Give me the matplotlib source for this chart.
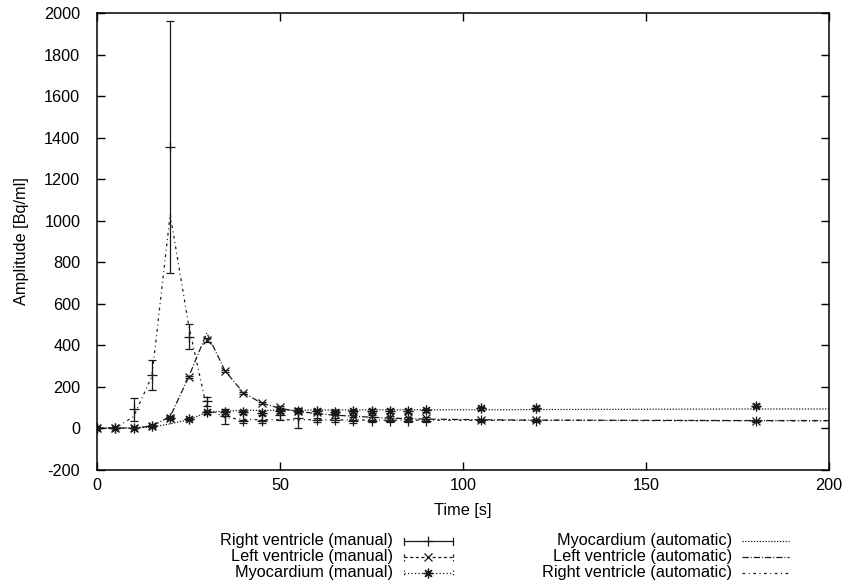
import matplotlib
matplotlib.use('Agg')
import matplotlib.pyplot as plt
from matplotlib.lines import Line2D

plt.rcParams['font.family'] = ['Liberation Sans', 'DejaVu Sans']
plt.rcParams['font.size'] = 11.7
plt.rcParams['axes.unicode_minus'] = False

# ---- data ----
t_manual = [0, 5, 10, 15, 20, 25, 30, 35, 40, 45, 50, 55, 60, 65, 70, 75, 80, 85, 90, 105, 120, 180]
rv_manual = [0, 0, 90, 255, 1357, 440, 128, 57, 32, 32, 65, 48, 40, 38, 32, 35, 35, 36, 36, 37, 35, 33]
rv_err = [0, 0, 54, 72, 608, 60, 22, 37, 8, 8, 25, 48, 10, 8, 6, 6, 6, 6, 6, 6, 6, 6]
lv_manual = [0, 0, 0, 10, 48, 245, 424, 275, 170, 122, 100, 82, 75, 66, 60, 56, 52, 50, 48, 40, 38, 36]
lv_err = [0, 0, 0, 3, 5, 6, 8, 6, 5, 5, 5, 5, 5, 5, 5, 5, 5, 5, 5, 5, 5, 5]
myo_manual = [0, 0, 2, 10, 50, 45, 75, 75, 75, 72, 80, 80, 80, 78, 80, 82, 82, 82, 85, 95, 98, 107]
myo_err = [0, 0, 0, 3, 6, 5, 8, 8, 8, 8, 8, 8, 8, 8, 8, 8, 8, 8, 8, 8, 8, 8]

t_auto = [0, 5, 10, 15, 20, 25, 30, 35, 40, 45, 50, 55, 60, 65, 70, 75, 80, 85, 90, 105, 120, 180, 200]
myo_auto = [0, 0, 0, 5, 20, 40, 75, 82, 85, 85, 86, 86, 87, 87, 87, 88, 88, 88, 88, 88, 89, 92, 92]
lv_auto = [0, 0, 0, 10, 55, 245, 458, 275, 170, 120, 95, 80, 70, 62, 57, 52, 48, 45, 43, 40, 38, 36, 36]
rv_auto = [0, 0, 55, 250, 1030, 500, 95, 50, 42, 40, 40, 40, 40, 39, 39, 38, 38, 38, 38, 37, 37, 35, 35]

x_ticks = [0, 50, 100, 150, 200]
y_ticks = [-200, 0, 200, 400, 600, 800, 1000, 1200, 1400, 1600, 1800, 2000]

# ---- styles ----
C = '#1a1a1a'
LW = 0.9
ls_myo_auto = (0, (1.0, 1.3))
ls_lv_auto = (0, (5.0, 1.6, 0.8, 1.6))
ls_rv_auto = (0, (2.2, 2.8, 0.8, 2.8))
ls_lv_man = (0, (2.5, 2.0))
ls_myo_man = (0, (1.0, 1.8))
asterisk = (8, 2, 0)

W, H = 846, 588
fig = plt.figure(figsize=(W / 100, H / 100), dpi=100)
ax = fig.add_axes([97 / W, 1 - 469.5 / H, (829 - 97) / W, (469.5 - 13.3) / H])

# automatic curves
ax.plot(t_auto, myo_auto, color=C, lw=LW, ls=ls_myo_auto)
ax.plot(t_auto, lv_auto, color=C, lw=LW, ls=ls_lv_auto)
ax.plot(t_auto, rv_auto, color=C, lw=LW, ls=ls_rv_auto)

# manual measurements with error bars
def man(t, v, e, marker, ms, ls):
    _, caps, bars = ax.errorbar(t, v, yerr=e, fmt='none', ecolor=C, elinewidth=LW,
                                capsize=2.6, capthick=LW)
    bars[0].set_linestyle(ls)
    ax.plot(t, v, ls='none', marker=marker, ms=ms, mew=LW, color=C)

man(t_manual, rv_manual, rv_err, '+', 7, '-')
man(t_manual, lv_manual, lv_err, 'x', 6, ls_lv_man)
man(t_manual, myo_manual, myo_err, asterisk, 7, ls_myo_man)

ax.set_xlim(0, 200)
ax.set_ylim(-200, 2000)
ax.set_xticks(x_ticks)
ax.set_yticks(y_ticks)
ax.tick_params(direction='in', length=5.5, width=1.0, top=True, right=True, colors='black')
ax.tick_params(axis='y', pad=12)
ax.tick_params(axis='x', pad=6)
for s in ax.spines.values():
    s.set_linewidth(1.1)
ax.set_xlabel('Time [s]', labelpad=7)
ax.set_ylabel('Amplitude [Bq/ml]', labelpad=11)

# ---- legend drawn in gnuplot style (label, then sample) ----
def fx(px):
    return px / W

def fy(py):
    return 1 - py / H

def sample(x0, x1, y, ls, marker=None, ms=7, caps=True):
    fig.add_artist(Line2D([fx(x0), fx(x1)], [fy(y), fy(y)], color=C, lw=LW, ls=ls,
                          transform=fig.transFigure))
    if caps:
        for xx in (x0, x1):
            fig.add_artist(Line2D([fx(xx), fx(xx)], [fy(y - 3.5), fy(y + 3.5)], color=C, lw=LW,
                                  ls=ls, transform=fig.transFigure))
    if marker is not None:
        fig.add_artist(Line2D([fx((x0 + x1) / 2)], [fy(y)], ls='none', marker=marker, ms=ms,
                              mew=LW, color=C, transform=fig.transFigure))

rows = [541, 557, 573]
left_items = [('Right ventricle (manual)', '-', '+', 7),
              ('Left ventricle (manual)', ls_lv_man, 'x', 6),
              ('Myocardium (manual)', ls_myo_man, asterisk, 7)]
right_items = [('Myocardium (automatic)', ls_myo_auto),
               ('Left ventricle (automatic)', ls_lv_auto),
               ('Right ventricle (automatic)', ls_rv_auto)]

for y, (lab, ls, mk, ms) in zip(rows, left_items):
    fig.text(fx(393.3), fy(y), lab, ha='right', va='center')
    sample(403.5, 452.5, y, ls, mk, ms, caps=True)

for y, (lab, ls) in zip(rows, right_items):
    fig.text(fx(731.7), fy(y), lab, ha='right', va='center')
    sample(742, 788.5, y, ls, None, caps=False)

fig.savefig('out.png', dpi=100)
